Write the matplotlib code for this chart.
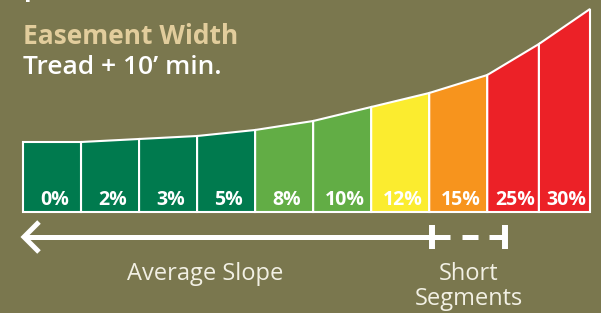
import numpy as np
import matplotlib
matplotlib.use("Agg")
import matplotlib.pyplot as plt
from matplotlib.patches import Polygon

# Slope categories and the profile height at each bar boundary
slopes = ["0%", "2%", "3%", "5%", "8%", "10%", "12%", "15%", "25%", "30%"]
profile = [70, 70, 73, 76, 82, 91, 105, 119, 137, 168, 203]
widths = [1, 1, 1, 1, 1, 1, 1, 1, 0.89, 0.88]
colors = ["#007a4e", "#007a4e", "#007a4e", "#007a4e", "#62ad45", "#62ad45",
          "#fbec2f", "#f7941d", "#ec2127", "#ec2127"]

title = "Easement Width"
subtitle = "Tread + 10\u2019 min."
bottom_left = "Average Slope"
bottom_right = ["Short", "Segments"]

bg = "#7a774e"
W, H = 601, 313
fig = plt.figure(figsize=(W / 100, H / 100), dpi=100, facecolor=bg)
plt.rcParams['font.family'] = ['Open Sans', 'DejaVu Sans']

# bar axes: from x=23 to 590 px, bottom of bars at y=212 px
ax = fig.add_axes([23 / W, (H - 212) / H, (590 - 23) / W, 212 / H])
ax.set_facecolor("none")
edges = np.concatenate([[0], np.cumsum(widths)])
ax.set_xlim(edges[0], edges[-1])
ax.set_ylim(0, 212)
ax.axis("off")
for i, lab in enumerate(slopes):
    x0, x1 = edges[i], edges[i + 1]
    poly = Polygon([(x0, 0), (x1, 0), (x1, profile[i + 1]), (x0, profile[i])],
                   closed=True, facecolor=colors[i], edgecolor="white",
                   linewidth=1.5, clip_on=False)
    ax.add_patch(poly)
    ax.text((x0 + x1) / 2 + 0.04, 7, lab, ha="center", va="baseline",
            color="white", fontsize=14, fontweight="bold")

# overlay in pixel coordinates for arrow and text
ov = fig.add_axes([0, 0, 1, 1])
ov.set_facecolor("none")
ov.set_xlim(0, W)
ov.set_ylim(H, 0)
ov.axis("off")

lw = 3.6
ov.plot([25, 450], [237, 237], color="white", lw=lw, solid_capstyle="butt")
ov.plot([39, 24, 39], [222, 237, 252], color="white", lw=lw,
        solid_joinstyle="miter", solid_capstyle="butt")
ov.plot([432, 432], [225, 249], color="white", lw=4.3, solid_capstyle="butt")
ov.plot([462, 478], [237, 237], color="white", lw=lw, solid_capstyle="butt")
ov.plot([489, 506], [237, 237], color="white", lw=lw, solid_capstyle="butt")
ov.plot([505, 505], [225, 249], color="white", lw=4.3, solid_capstyle="butt")

ov.text(24, -4, "profile", color="white", fontsize=18, fontweight="bold",
        ha="left", va="baseline")
ov.text(23, 44, title, color="#e2cd9c", fontsize=19, fontweight="bold",
        ha="left", va="baseline")
ov.text(23, 74, subtitle, color="white", fontsize=19, fontweight="semibold",
        ha="left", va="baseline")
ov.text(205, 280, bottom_left, color="#f2f0e4", fontsize=17,
        ha="center", va="baseline")
ov.text(469, 280, bottom_right[0], color="#f2f0e4", fontsize=17,
        ha="center", va="baseline")
ov.text(469, 305, bottom_right[1], color="#f2f0e4", fontsize=17,
        ha="center", va="baseline")

fig.savefig("out.png", dpi=100, facecolor=bg)
